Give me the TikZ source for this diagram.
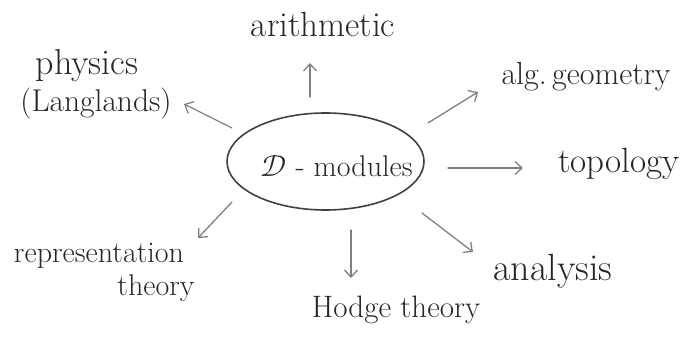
\documentclass[tikz,border=0pt]{standalone}
\usepackage{fontspec}
\usepackage{unicode-math}
\usetikzlibrary{shapes.geometric,arrows.meta}
\begin{document}
\begin{tikzpicture}[x=1pt,y=-1pt,
  lbl/.style={text=black!85, inner sep=0pt, anchor=base},
  arr/.style={draw=black!50, line width=1.3pt, line cap=round,
    -{Straight Barb[length=7pt,width=13pt,line width=1.3pt]}},
  fs/.style={font=\fontsize{#1}{#1}\selectfont}
]
\useasboundingbox (0,0) rectangle (682,358);

% central ellipse
\node[ellipse, draw=black!75, line width=1.6pt, minimum width=197pt,
      minimum height=97pt, inner sep=0pt, text=black!85,
      fs=30] (dm) at (325.5,161.5)
      {\makebox[0pt][c]{\hspace*{22pt}\raisebox{-15pt}[0pt][0pt]{$\mathscr{D}$ - modules}}};

% labels
\node[lbl, fs=35] (arith) at (323,37) {arithmetic};
\node[lbl, fs=36] (phys) at (87,75) {physics};
\node[lbl, fs=31.5] (lang) at (96,112) {(Langlands)};
\node[lbl, fs=32] (alg) at (586,85) {alg.\,geometry};
\node[lbl, fs=35] (topo) at (619,173) {topology};
\node[lbl, fs=38] (anal) at (553,280) {analysis};
\node[lbl, fs=31] (hodge) at (396,317) {Hodge theory};
\node[lbl, fs=30] (rep) at (99,262) {representation};
\node[lbl, fs=30] (theo) at (156,295) {theory};

% arrow end points
\coordinate (a1s) at (310,97);  \coordinate (a1e) at (310,63);
\coordinate (a2s) at (232,128); \coordinate (a2e) at (184,104);
\coordinate (a3s) at (428,123); \coordinate (a3e) at (478,92);
\coordinate (a4s) at (448,168); \coordinate (a4e) at (523,168);
\coordinate (a5s) at (422,213); \coordinate (a5e) at (473,252);
\coordinate (a6s) at (351,230); \coordinate (a6e) at (351,278);
\coordinate (a7s) at (232,202); \coordinate (a7e) at (198,238);

\draw[arr] (a1s) -- (a1e);
\draw[arr] (a2s) -- (a2e);
\draw[arr] (a3s) -- (a3e);
\draw[arr] (a4s) -- (a4e);
\draw[arr] (a5s) -- (a5e);
\draw[arr] (a6s) -- (a6e);
\draw[arr] (a7s) -- (a7e);
\end{tikzpicture}
\end{document}
